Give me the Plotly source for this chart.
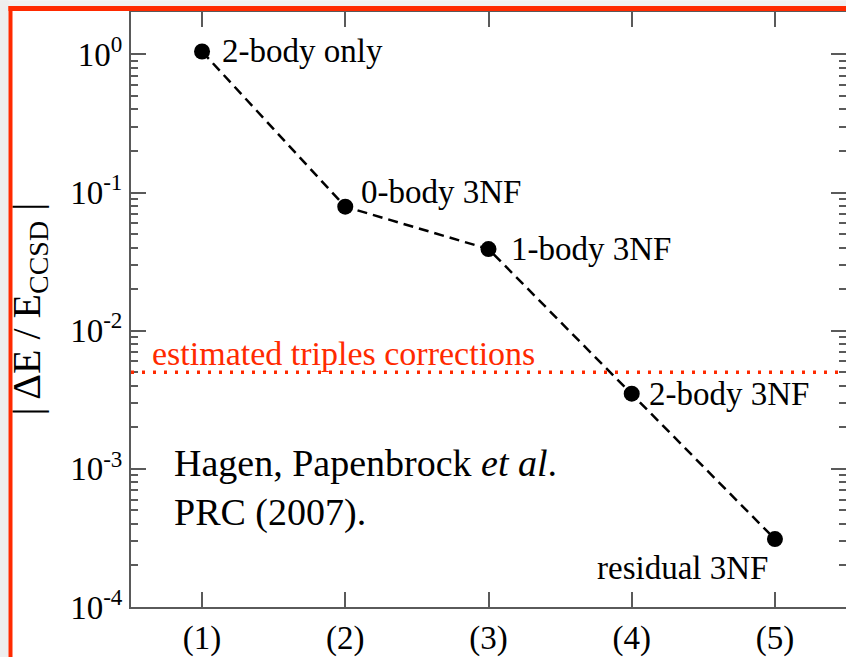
import numpy as np
import plotly.graph_objects as go

# ---- data ----
steps = [1, 2, 3, 4, 5]
step_labels = ["(1)", "(2)", "(3)", "(4)", "(5)"]
rel_error = [1.05, 0.079, 0.039, 0.0035, 0.00031]
point_labels = ["2-body only", "0-body 3NF", "1-body 3NF", "2-body 3NF", "residual 3NF"]
triples_estimate = 0.005
ytick_vals = [1e-4, 1e-3, 1e-2, 1e-1, 1e0]
ytick_text = ["10<sup>-4</sup>", "10<sup>-3</sup>", "10<sup>-2</sup>", "10<sup>-1</sup>", "10<sup>0</sup>"]

FONT = "Liberation Serif"
W, H = 846, 657
L, R, T, B = 131, 0, 12, 42
AX = "#5a5a5a"
RED = "#ff2a00"

def px(p):
    return (p - L) / (W - L - R)

def py(q):
    return (H - B - q) / (H - B - T)

minor_vals = [m * 10.0 ** e for e in range(-4, 0) for m in range(2, 10)]

fig = go.Figure()
fig.add_trace(go.Scatter(
    x=steps, y=rel_error, mode="lines+markers",
    line=dict(color="black", width=2.5, dash="10px,6px"),
    marker=dict(color="black", size=16),
    hoverinfo="skip", showlegend=False,
))
# invisible trace to anchor right-hand tick axis
fig.add_trace(go.Scatter(
    x=steps, y=rel_error, yaxis="y2", mode="markers",
    marker=dict(opacity=0), hoverinfo="skip", showlegend=False,
))
# triples correction line
fig.add_shape(type="line", xref="paper", x0=0, x1=1, yref="y",
              y0=triples_estimate, y1=triples_estimate,
              line=dict(color=RED, width=3.5, dash="3px,8px"))

anns = []
offsets = [(18, 0, "left"), (14, 15, "left"), (20, 0, "left"), (15, 0, "left"), (-5, -29, "right")]
for xv, yv, txt, (dx, dy, anc) in zip(steps, rel_error, point_labels, offsets):
    anns.append(dict(x=xv, y=np.log10(yv), xref="x", yref="y", text=txt, showarrow=False,
                     xanchor=anc, yanchor="middle", xshift=dx, yshift=dy,
                     font=dict(family=FONT, size=33, color="black")))
anns.append(dict(x=0.637, y=np.log10(triples_estimate), xref="x", yref="y",
                 text="estimated triples corrections", showarrow=False,
                 xanchor="left", yanchor="bottom", yshift=-2,
                 font=dict(family=FONT, size=34, color=RED)))
anns.append(dict(x=0.79, y=-3.135, xref="x", yref="y",
                 text="Hagen, Papenbrock <i>et al</i>.<br>PRC (2007).", showarrow=False,
                 xanchor="left", yanchor="middle", align="left",
                 font=dict(family=FONT, size=38, color="black")))
anns.append(dict(x=px(28), y=0.5, xref="paper", yref="paper",
                 text="| ΔE / E<sub>CCSD</sub> |", showarrow=False, textangle=-90,
                 xanchor="center", yanchor="middle",
                 font=dict(family=FONT, size=40, color="black")))

shapes = [
    dict(type="rect", xref="paper", yref="paper", x0=px(0), x1=px(W), y0=py(0), y1=py(6),
         fillcolor="#f1f1f1", line=dict(width=0)),
    dict(type="rect", xref="paper", yref="paper", x0=px(0), x1=px(8.5), y0=py(H + 10), y1=py(0),
         fillcolor="#eeeeee", line=dict(width=0)),
    dict(type="rect", xref="paper", yref="paper", x0=px(8.5), x1=px(W), y0=py(11), y1=py(6),
         fillcolor=RED, line=dict(width=0)),
    dict(type="rect", xref="paper", yref="paper", x0=px(8.5), x1=px(12.5), y0=py(H + 10), y1=py(6),
         fillcolor=RED, line=dict(width=0)),
]
for s in shapes:
    fig.add_shape(**s)

fig.update_layout(
    width=W, height=H, margin=dict(l=L, r=R, t=T, b=B),
    paper_bgcolor="white", plot_bgcolor="white",
    annotations=anns,
    xaxis=dict(range=[0.504, 5.496], tickmode="array", tickvals=steps, ticktext=step_labels,
               ticks="inside", ticklen=15, tickwidth=2, tickcolor=AX,
               showline=True, linecolor=AX, linewidth=2, mirror="ticks",
               showgrid=False, zeroline=False,
               tickfont=dict(family=FONT, size=33, color="black")),
    yaxis=dict(type="log", range=[-4, 0.307], tickmode="array", tickvals=ytick_vals, ticktext=ytick_text,
               ticks="inside", ticklen=15, tickwidth=2, tickcolor=AX,
               showline=True, linecolor=AX, linewidth=2, mirror=False,
               showgrid=False, zeroline=False,
               minor=dict(tickvals=minor_vals, ticks="inside", ticklen=7, tickwidth=2, tickcolor=AX, showgrid=False),
               tickfont=dict(family=FONT, size=33, color="black")),
    yaxis2=dict(type="log", range=[-4, 0.307], overlaying="y", side="right",
                tickmode="array", tickvals=ytick_vals, showticklabels=False,
                ticks="inside", ticklen=15, tickwidth=2, tickcolor=AX,
                showline=False, showgrid=False, zeroline=False,
                minor=dict(tickvals=minor_vals, ticks="inside", ticklen=7, tickwidth=2, tickcolor=AX, showgrid=False)),
)

fig.write_html("out.html", config={"displayModeBar": False},
               post_script="document.body.style.margin='0';document.body.style.overflow='hidden';")
